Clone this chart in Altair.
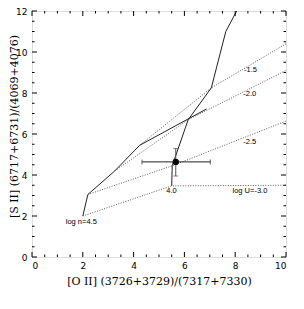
import altair as alt
import pandas as pd

# Model grid: constant density (solid) lines
n45_x = [2.0, 2.2, 3.26, 4.24, 6.87]
n45_y = [2.0, 3.05, 4.2, 5.45, 7.22]
n40_x = [5.5, 5.52, 6.15, 7.06, 7.63, 8.4]
n40_y = [3.47, 4.45, 6.7, 8.25, 11.0, 12.8]

# Constant ionisation parameter (dotted) lines
u30_x = [2.0, 5.5, 10.0]
u30_y = [2.0, 3.47, 3.5]
u25_x = [2.2, 5.52, 10.0]
u25_y = [3.05, 4.45, 6.63]
u20_x = [3.26, 6.15, 10.0]
u20_y = [4.2, 6.7, 9.1]
u15_x = [4.24, 7.06, 10.0]
u15_y = [5.45, 8.25, 10.4]

# Labels
lab_text = ["log n=4.5", "4.0", "log U=-3.0", "-2.5", "-2.0", "-1.5"]
lab_x = [1.94, 5.49, 8.58, 8.57, 8.57, 8.6]
lab_y = [1.73, 3.24, 3.22, 5.6, 7.93, 9.1]

# Observed point with error bars
obs_x = [5.66]
obs_y = [4.64]
obs_xlo = [4.33]
obs_xhi = [7.02]
obs_ylo = [3.95]
obs_yhi = [5.29]

x_major = [0, 2, 4, 6, 8, 10]
y_major = [0, 2, 4, 6, 8, 10, 12]
x_minor = [v / 2 for v in range(0, 21) if v % 4 != 0]
y_minor = [v / 2 for v in range(0, 25) if v % 4 != 0]

W, H = 254, 246


def mk(series, xs, ys):
    return pd.DataFrame({"x": xs, "y": ys, "s": series, "o": list(range(len(xs)))})


solid = pd.concat([mk("n45", n45_x, n45_y), mk("n40", n40_x, n40_y)])
dotted = pd.concat([mk("u30", u30_x, u30_y), mk("u25", u25_x, u25_y),
                    mk("u20", u20_x, u20_y), mk("u15", u15_x, u15_y)])
labels = pd.DataFrame({"t": lab_text, "x": lab_x, "y": lab_y})
obs = pd.DataFrame({"x": obs_x, "y": obs_y, "xlo": obs_xlo, "xhi": obs_xhi,
                    "ylo": obs_ylo, "yhi": obs_yhi})

xs = alt.Scale(domain=[0, 10], nice=False, zero=False)
ys = alt.Scale(domain=[0, 12], nice=False, zero=False)

XT = "[O II]  (3726+3729)/(7317+7330)"
YT = "[S II]  (6717+6731)/(4069+4076)"

xaxis = alt.Axis(values=x_major, ticks=False, domain=False, grid=False,
                 labelPadding=4, labelFontSize=9, labelFont="DejaVu Sans",
                 labelColor="black", title=XT, titleFont="DejaVu Serif",
                 titleFontSize=11, titleFontWeight="normal", titleColor="black",
                 titlePadding=5)
yaxis = alt.Axis(values=y_major, ticks=False, domain=False, grid=False,
                 labelPadding=5, labelFontSize=9, labelFont="DejaVu Sans",
                 labelColor="black", title=YT, titleFont="DejaVu Serif",
                 titleFontSize=11, titleFontWeight="normal", titleColor="black",
                 titleAngle=270, titleAlign="center", titleBaseline="middle",
                 titleX=-18, titleY=H / 2 - 8)

base_solid = alt.Chart(solid).mark_line(color="#222222", strokeWidth=1, clip=True).encode(
    x=alt.X("x:Q", scale=xs, axis=xaxis),
    y=alt.Y("y:Q", scale=ys, axis=yaxis),
    detail="s:N",
    order="o:Q",
)

dots = alt.Chart(dotted).mark_line(color="#333333", strokeWidth=0.8,
                                   strokeDash=[1, 1.5], clip=True).encode(
    x=alt.X("x:Q", scale=xs),
    y=alt.Y("y:Q", scale=ys),
    detail="s:N",
    order="o:Q",
)

text = alt.Chart(labels).mark_text(font="Liberation Sans", fontSize=7.5,
                                   fill="black").encode(
    x=alt.X("x:Q", scale=xs),
    y=alt.Y("y:Q", scale=ys),
    text="t:N",
)

xbar = alt.Chart(obs).mark_rule(color="#222222", strokeWidth=1).encode(
    x=alt.X("xlo:Q", scale=xs), x2="xhi:Q", y=alt.Y("y:Q", scale=ys))
ybar = alt.Chart(obs).mark_rule(color="#555555", strokeWidth=1).encode(
    y=alt.Y("ylo:Q", scale=ys), y2="yhi:Q", x=alt.X("x:Q", scale=xs))
capx1 = alt.Chart(obs).mark_tick(color="#222222", orient="vertical", size=5, thickness=1).encode(
    x=alt.X("xlo:Q", scale=xs), y=alt.Y("y:Q", scale=ys))
capx2 = alt.Chart(obs).mark_tick(color="#222222", orient="vertical", size=5, thickness=1).encode(
    x=alt.X("xhi:Q", scale=xs), y=alt.Y("y:Q", scale=ys))
capy1 = alt.Chart(obs).mark_tick(color="#555555", orient="horizontal", size=5, thickness=1).encode(
    x=alt.X("x:Q", scale=xs), y=alt.Y("ylo:Q", scale=ys))
capy2 = alt.Chart(obs).mark_tick(color="#555555", orient="horizontal", size=5, thickness=1).encode(
    x=alt.X("x:Q", scale=xs), y=alt.Y("yhi:Q", scale=ys))
pt = alt.Chart(obs).mark_point(filled=True, color="black", size=40, opacity=1).encode(
    x=alt.X("x:Q", scale=xs), y=alt.Y("y:Q", scale=ys))


def xticks(vals, length):
    df = pd.DataFrame({"v": vals})
    b = alt.Chart(df).mark_rule(color="black", strokeWidth=1)
    return [
        b.encode(x=alt.X("v:Q", scale=xs), y=alt.value(H), y2=alt.value(H - length)),
        b.encode(x=alt.X("v:Q", scale=xs), y=alt.value(0), y2=alt.value(length)),
    ]


def yticks(vals, length):
    df = pd.DataFrame({"v": vals})
    b = alt.Chart(df).mark_rule(color="black", strokeWidth=1)
    return [
        b.encode(y=alt.Y("v:Q", scale=ys), x=alt.value(0), x2=alt.value(length)),
        b.encode(y=alt.Y("v:Q", scale=ys), x=alt.value(W), x2=alt.value(W - length)),
    ]


tick_layers = xticks(x_major, 5) + xticks(x_minor, 2.5) + yticks(y_major, 5) + yticks(y_minor, 2.5)

chart = alt.layer(
    base_solid, dots, text, xbar, ybar, capx1, capx2, capy1, capy2, pt, *tick_layers
).properties(
    width=W, height=H,
    autosize=alt.AutoSizeParams(type="none"),
    padding={"left": 24, "top": 3, "right": 10, "bottom": 40},
).configure_view(
    stroke="black", strokeWidth=1
).configure(background="white")

chart.save("out.html", embed_options={"renderer": "svg", "actions": False})
